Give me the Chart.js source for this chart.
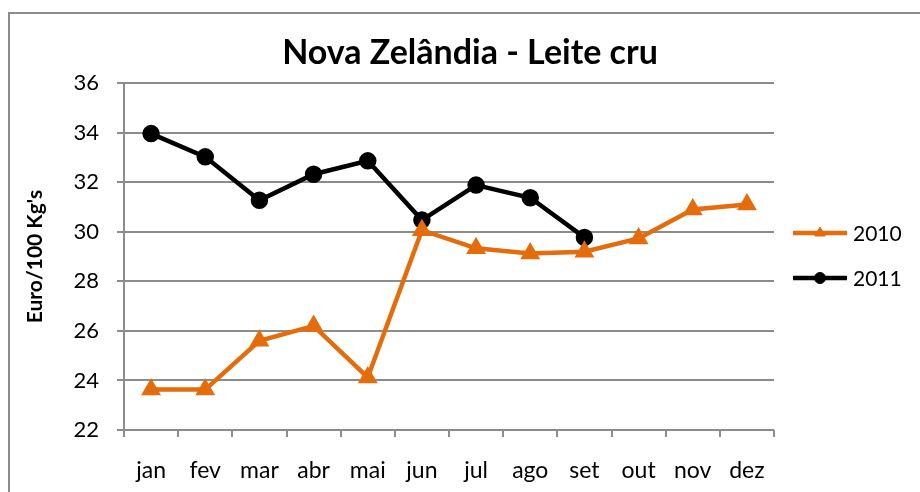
<!DOCTYPE html>
<html>
<head>
<meta charset="utf-8">
<script src="https://cdn.jsdelivr.net/npm/chart.js@4/dist/chart.umd.min.js"></script>
<style>
html,body{margin:0;padding:0;background:#fff;}
#wrap{width:920px;height:492px;position:relative;}
</style>
</head>
<body>
<div id="wrap"><canvas id="c" width="920" height="492"></canvas></div>
<script>
const months = ["jan","fev","mar","abr","mai","jun","jul","ago","set","out","nov","dez"];
const values2010 = [23.63, 23.63, 25.6, 26.2, 24.12, 30.06, 29.33, 29.12, 29.19, 29.73, 30.9, 31.1];
const values2011 = [33.96, 33.02, 31.27, 32.32, 32.86, 30.47, 31.88, 31.37, 29.77, null, null, null];
const yTicks = [22, 24, 26, 28, 30, 32, 34, 36];
const titleText = "Nova Zelândia - Leite cru";
const yAxisTitle = "Euro/100 Kg's";

const FONT = "Lato, 'Open Sans', sans-serif";
const ORANGE = "#E46C0A";
const GRID = "#8c8c8c";

const framePlugin = {
  id: 'frame',
  beforeDraw(chart) {
    const ctx = chart.ctx;
    ctx.save();
    ctx.fillStyle = '#fff';
    ctx.fillRect(0, 0, chart.width, chart.height);
    ctx.strokeStyle = GRID;
    ctx.lineWidth = 2;
    ctx.strokeRect(9, 13, 960, 540);
    ctx.restore();
  }
};

const titlePlugin = {
  id: 'customTitle',
  afterDraw(chart) {
    const ctx = chart.ctx;
    ctx.save();
    ctx.fillStyle = '#000';
    ctx.font = "bold 34px " + FONT;
    ctx.textAlign = 'center';
    ctx.textBaseline = 'alphabetic';
    ctx.fillText(titleText, 470, 64);
    ctx.restore();
  }
};

const legendPlugin = {
  id: 'sideLegend',
  afterDraw(chart) {
    const ctx = chart.ctx;
    const items = chart.data.datasets;
    const x0 = 793, x1 = 847, ys = [233, 278];
    const legendRadius = [6, 5.5];
    ctx.save();
    items.forEach((ds, i) => {
      const y = ys[i];
      ctx.strokeStyle = ds.borderColor;
      ctx.lineWidth = ds.borderWidth;
      ctx.beginPath();
      ctx.moveTo(x0, y);
      ctx.lineTo(x1, y);
      ctx.stroke();
      ctx.fillStyle = ds.borderColor;
      ctx.strokeStyle = ds.borderColor;
      ctx.lineWidth = 1;
      Chart.helpers.drawPoint(ctx, {
        pointStyle: ds.pointStyle,
        radius: legendRadius[i],
        borderWidth: 1
      }, (x0 + x1) / 2, y);
      ctx.fillStyle = '#000';
      ctx.font = "21px " + FONT;
      ctx.textBaseline = 'middle';
      ctx.textAlign = 'left';
      ctx.fillText(ds.label, 853, y + 1);
    });
    ctx.restore();
  }
};

new Chart(document.getElementById('c'), {
  type: 'line',
  data: {
    labels: months,
    datasets: [
      {
        label: '2010',
        data: values2010,
        borderColor: ORANGE,
        backgroundColor: ORANGE,
        borderWidth: 4.5,
        pointStyle: 'triangle',
        pointRadius: 7,
        pointBorderColor: ORANGE,
        pointBackgroundColor: ORANGE,
        tension: 0
      },
      {
        label: '2011',
        data: values2011,
        borderColor: '#000',
        backgroundColor: '#000',
        borderWidth: 4.5,
        pointStyle: 'circle',
        pointRadius: 6.5,
        pointBorderColor: '#000',
        pointBackgroundColor: '#000',
        tension: 0
      }
    ]
  },
  options: {
    responsive: false,
    animation: false,
    layout: { padding: { left: 9, right: 146, top: 83, bottom: 0 } },
    plugins: {
      legend: { display: false },
      tooltip: { enabled: false },
      title: { display: false }
    },
    scales: {
      x: {
        type: 'category',
        offset: true,
        grid: {
          offset: true,
          drawOnChartArea: false,
          drawTicks: true,
          tickLength: 7,
          color: GRID,
          lineWidth: 2
        },
        border: { display: false },
        ticks: {
          color: '#000',
          font: { family: FONT, size: 23 },
          padding: 20,
          maxRotation: 0,
          autoSkip: false
        },
        afterFit(scale) { scale.height = 62; }
      },
      y: {
        min: 22,
        max: 36,
        afterBuildTicks(scale) { scale.ticks = yTicks.map(v => ({ value: v })); },
        grid: {
          color: GRID,
          lineWidth: 2,
          tickLength: 7
        },
        border: { display: true, color: GRID, width: 2 },
        ticks: {
          color: '#000',
          font: { family: FONT, size: 22 },
          padding: 18
        },
        title: {
          display: true,
          text: yAxisTitle,
          color: '#000',
          font: { family: FONT, size: 21, weight: 'bold' },
          padding: { top: 14, bottom: 0 }
        },
        afterFit(scale) { scale.width = 115; }
      }
    }
  },
  plugins: [framePlugin, titlePlugin, legendPlugin]
});
</script>
</body>
</html>
